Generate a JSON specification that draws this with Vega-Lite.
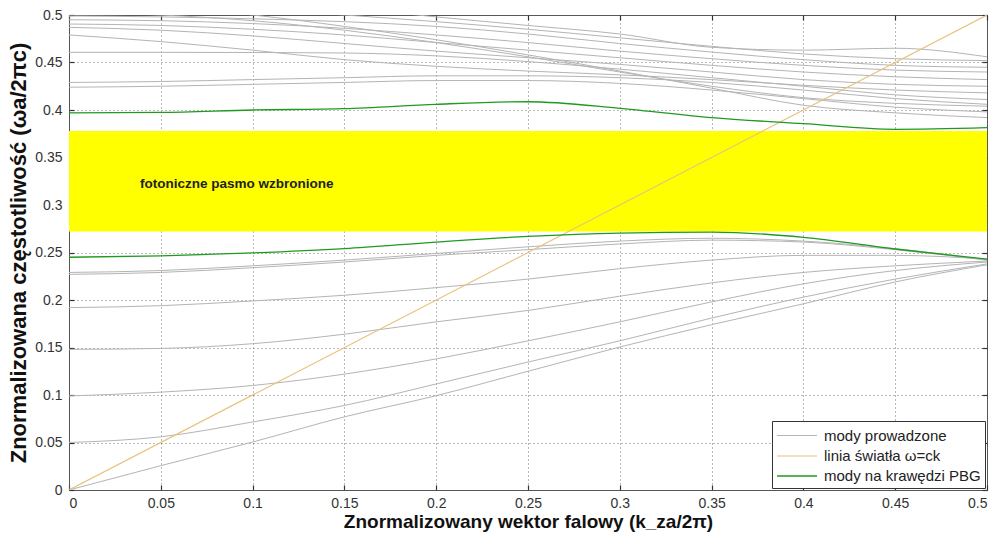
{
  "$schema": "https://vega.github.io/schema/vega-lite/v6.json",
  "width": 918,
  "height": 475,
  "autosize": {"type": "none"},
  "padding": {"left": 69, "top": 15, "right": 11, "bottom": 46},
  "background": "white",
  "view": {"stroke": "#555", "strokeWidth": 1},
  "datasets": {
    "band": [{"x0": 0, "x1": 0.5, "y0": 0.272, "y1": 0.378}],
    "note": [{"k": 0.0387, "w": 0.322, "label": "fotoniczne pasmo wzbronione"}],
    "lines": [
      {"id":"a","type":"mody prowadzone","k":0,"w":0.535},{"id":"a","type":"mody prowadzone","k":0.05,"w":0.527},{"id":"a","type":"mody prowadzone","k":0.1,"w":0.518},{"id":"a","type":"mody prowadzone","k":0.15,"w":0.508},{"id":"a","type":"mody prowadzone","k":0.2,"w":0.498},{"id":"a","type":"mody prowadzone","k":0.25,"w":0.489},{"id":"a","type":"mody prowadzone","k":0.3,"w":0.48},{"id":"a","type":"mody prowadzone","k":0.35,"w":0.466},{"id":"a","type":"mody prowadzone","k":0.4,"w":0.463},{"id":"a","type":"mody prowadzone","k":0.45,"w":0.465},{"id":"a","type":"mody prowadzone","k":0.5,"w":0.456},
      {"id":"b","type":"mody prowadzone","k":0,"w":0.515},{"id":"b","type":"mody prowadzone","k":0.05,"w":0.511},{"id":"b","type":"mody prowadzone","k":0.1,"w":0.506},{"id":"b","type":"mody prowadzone","k":0.15,"w":0.5},{"id":"b","type":"mody prowadzone","k":0.2,"w":0.493},{"id":"b","type":"mody prowadzone","k":0.25,"w":0.485},{"id":"b","type":"mody prowadzone","k":0.3,"w":0.476},{"id":"b","type":"mody prowadzone","k":0.35,"w":0.467},{"id":"b","type":"mody prowadzone","k":0.4,"w":0.459},{"id":"b","type":"mody prowadzone","k":0.45,"w":0.454},{"id":"b","type":"mody prowadzone","k":0.5,"w":0.452},
      {"id":"c","type":"mody prowadzone","k":0,"w":0.499},{"id":"c","type":"mody prowadzone","k":0.05,"w":0.498},{"id":"c","type":"mody prowadzone","k":0.1,"w":0.496},{"id":"c","type":"mody prowadzone","k":0.15,"w":0.493},{"id":"c","type":"mody prowadzone","k":0.2,"w":0.488},{"id":"c","type":"mody prowadzone","k":0.25,"w":0.48},{"id":"c","type":"mody prowadzone","k":0.3,"w":0.47},{"id":"c","type":"mody prowadzone","k":0.35,"w":0.461},{"id":"c","type":"mody prowadzone","k":0.4,"w":0.453},{"id":"c","type":"mody prowadzone","k":0.45,"w":0.447},{"id":"c","type":"mody prowadzone","k":0.5,"w":0.445},
      {"id":"d","type":"mody prowadzone","k":0,"w":0.495},{"id":"d","type":"mody prowadzone","k":0.05,"w":0.494},{"id":"d","type":"mody prowadzone","k":0.1,"w":0.491},{"id":"d","type":"mody prowadzone","k":0.15,"w":0.486},{"id":"d","type":"mody prowadzone","k":0.2,"w":0.479},{"id":"d","type":"mody prowadzone","k":0.25,"w":0.471},{"id":"d","type":"mody prowadzone","k":0.3,"w":0.462},{"id":"d","type":"mody prowadzone","k":0.35,"w":0.454},{"id":"d","type":"mody prowadzone","k":0.4,"w":0.447},{"id":"d","type":"mody prowadzone","k":0.45,"w":0.442},{"id":"d","type":"mody prowadzone","k":0.5,"w":0.44},
      {"id":"e","type":"mody prowadzone","k":0,"w":0.4905},{"id":"e","type":"mody prowadzone","k":0.05,"w":0.489},{"id":"e","type":"mody prowadzone","k":0.1,"w":0.485},{"id":"e","type":"mody prowadzone","k":0.15,"w":0.479},{"id":"e","type":"mody prowadzone","k":0.2,"w":0.471},{"id":"e","type":"mody prowadzone","k":0.25,"w":0.463},{"id":"e","type":"mody prowadzone","k":0.3,"w":0.455},{"id":"e","type":"mody prowadzone","k":0.35,"w":0.447},{"id":"e","type":"mody prowadzone","k":0.4,"w":0.44},{"id":"e","type":"mody prowadzone","k":0.45,"w":0.435},{"id":"e","type":"mody prowadzone","k":0.5,"w":0.432},
      {"id":"f","type":"mody prowadzone","k":0,"w":0.487},{"id":"f","type":"mody prowadzone","k":0.05,"w":0.484},{"id":"f","type":"mody prowadzone","k":0.1,"w":0.478},{"id":"f","type":"mody prowadzone","k":0.15,"w":0.47},{"id":"f","type":"mody prowadzone","k":0.2,"w":0.462},{"id":"f","type":"mody prowadzone","k":0.25,"w":0.455},{"id":"f","type":"mody prowadzone","k":0.3,"w":0.448},{"id":"f","type":"mody prowadzone","k":0.35,"w":0.44},{"id":"f","type":"mody prowadzone","k":0.4,"w":0.432},{"id":"f","type":"mody prowadzone","k":0.45,"w":0.427},{"id":"f","type":"mody prowadzone","k":0.5,"w":0.425},
      {"id":"g","type":"mody prowadzone","k":0,"w":0.479},{"id":"g","type":"mody prowadzone","k":0.05,"w":0.472},{"id":"g","type":"mody prowadzone","k":0.1,"w":0.463},{"id":"g","type":"mody prowadzone","k":0.15,"w":0.453},{"id":"g","type":"mody prowadzone","k":0.2,"w":0.446},{"id":"g","type":"mody prowadzone","k":0.25,"w":0.441},{"id":"g","type":"mody prowadzone","k":0.3,"w":0.437},{"id":"g","type":"mody prowadzone","k":0.35,"w":0.432},{"id":"g","type":"mody prowadzone","k":0.4,"w":0.426},{"id":"g","type":"mody prowadzone","k":0.45,"w":0.421},{"id":"g","type":"mody prowadzone","k":0.5,"w":0.418},
      {"id":"h","type":"mody prowadzone","k":0,"w":0.4607},{"id":"h","type":"mody prowadzone","k":0.05,"w":0.4607},{"id":"h","type":"mody prowadzone","k":0.1,"w":0.4605},{"id":"h","type":"mody prowadzone","k":0.15,"w":0.46},{"id":"h","type":"mody prowadzone","k":0.2,"w":0.457},{"id":"h","type":"mody prowadzone","k":0.25,"w":0.451},{"id":"h","type":"mody prowadzone","k":0.3,"w":0.443},{"id":"h","type":"mody prowadzone","k":0.35,"w":0.434},{"id":"h","type":"mody prowadzone","k":0.4,"w":0.425},{"id":"h","type":"mody prowadzone","k":0.45,"w":0.416},{"id":"h","type":"mody prowadzone","k":0.5,"w":0.411},
      {"id":"i","type":"mody prowadzone","k":0,"w":0.429},{"id":"i","type":"mody prowadzone","k":0.05,"w":0.43},{"id":"i","type":"mody prowadzone","k":0.1,"w":0.432},{"id":"i","type":"mody prowadzone","k":0.15,"w":0.434},{"id":"i","type":"mody prowadzone","k":0.2,"w":0.436},{"id":"i","type":"mody prowadzone","k":0.25,"w":0.436},{"id":"i","type":"mody prowadzone","k":0.3,"w":0.434},{"id":"i","type":"mody prowadzone","k":0.35,"w":0.429},{"id":"i","type":"mody prowadzone","k":0.4,"w":0.421},{"id":"i","type":"mody prowadzone","k":0.45,"w":0.412},{"id":"i","type":"mody prowadzone","k":0.5,"w":0.406},
      {"id":"j","type":"mody prowadzone","k":0,"w":0.424},{"id":"j","type":"mody prowadzone","k":0.05,"w":0.425},{"id":"j","type":"mody prowadzone","k":0.1,"w":0.427},{"id":"j","type":"mody prowadzone","k":0.15,"w":0.429},{"id":"j","type":"mody prowadzone","k":0.2,"w":0.431},{"id":"j","type":"mody prowadzone","k":0.25,"w":0.431},{"id":"j","type":"mody prowadzone","k":0.3,"w":0.428},{"id":"j","type":"mody prowadzone","k":0.35,"w":0.421},{"id":"j","type":"mody prowadzone","k":0.4,"w":0.412},{"id":"j","type":"mody prowadzone","k":0.45,"w":0.403},{"id":"j","type":"mody prowadzone","k":0.5,"w":0.398},
      {"id":"k","type":"mody prowadzone","k":0,"w":0.512},{"id":"k","type":"mody prowadzone","k":0.05,"w":0.508},{"id":"k","type":"mody prowadzone","k":0.1,"w":0.5},{"id":"k","type":"mody prowadzone","k":0.15,"w":0.488},{"id":"k","type":"mody prowadzone","k":0.2,"w":0.474},{"id":"k","type":"mody prowadzone","k":0.25,"w":0.458},{"id":"k","type":"mody prowadzone","k":0.3,"w":0.441},{"id":"k","type":"mody prowadzone","k":0.35,"w":0.423},{"id":"k","type":"mody prowadzone","k":0.4,"w":0.405},{"id":"k","type":"mody prowadzone","k":0.45,"w":0.397},{"id":"k","type":"mody prowadzone","k":0.5,"w":0.392},
      {"id":"l","type":"mody prowadzone","k":0,"w":0.503},{"id":"l","type":"mody prowadzone","k":0.05,"w":0.5},{"id":"l","type":"mody prowadzone","k":0.1,"w":0.494},{"id":"l","type":"mody prowadzone","k":0.15,"w":0.484},{"id":"l","type":"mody prowadzone","k":0.2,"w":0.471},{"id":"l","type":"mody prowadzone","k":0.25,"w":0.456},{"id":"l","type":"mody prowadzone","k":0.3,"w":0.44},{"id":"l","type":"mody prowadzone","k":0.35,"w":0.425},{"id":"l","type":"mody prowadzone","k":0.4,"w":0.413},{"id":"l","type":"mody prowadzone","k":0.45,"w":0.407},{"id":"l","type":"mody prowadzone","k":0.5,"w":0.404},
      {"id":"m1","type":"mody prowadzone","k":0,"w":0.227},{"id":"m1","type":"mody prowadzone","k":0.05,"w":0.229},{"id":"m1","type":"mody prowadzone","k":0.1,"w":0.234},{"id":"m1","type":"mody prowadzone","k":0.15,"w":0.24},{"id":"m1","type":"mody prowadzone","k":0.2,"w":0.247},{"id":"m1","type":"mody prowadzone","k":0.25,"w":0.253},{"id":"m1","type":"mody prowadzone","k":0.3,"w":0.259},{"id":"m1","type":"mody prowadzone","k":0.35,"w":0.263},{"id":"m1","type":"mody prowadzone","k":0.4,"w":0.261},{"id":"m1","type":"mody prowadzone","k":0.45,"w":0.253},{"id":"m1","type":"mody prowadzone","k":0.5,"w":0.242},
      {"id":"m2","type":"mody prowadzone","k":0,"w":0.229},{"id":"m2","type":"mody prowadzone","k":0.05,"w":0.231},{"id":"m2","type":"mody prowadzone","k":0.1,"w":0.236},{"id":"m2","type":"mody prowadzone","k":0.15,"w":0.242},{"id":"m2","type":"mody prowadzone","k":0.2,"w":0.249},{"id":"m2","type":"mody prowadzone","k":0.25,"w":0.256},{"id":"m2","type":"mody prowadzone","k":0.3,"w":0.262},{"id":"m2","type":"mody prowadzone","k":0.35,"w":0.265},{"id":"m2","type":"mody prowadzone","k":0.4,"w":0.262},{"id":"m2","type":"mody prowadzone","k":0.45,"w":0.254},{"id":"m2","type":"mody prowadzone","k":0.5,"w":0.242},
      {"id":"n","type":"mody prowadzone","k":0,"w":0.192},{"id":"n","type":"mody prowadzone","k":0.05,"w":0.194},{"id":"n","type":"mody prowadzone","k":0.1,"w":0.199},{"id":"n","type":"mody prowadzone","k":0.15,"w":0.205},{"id":"n","type":"mody prowadzone","k":0.2,"w":0.213},{"id":"n","type":"mody prowadzone","k":0.25,"w":0.222},{"id":"n","type":"mody prowadzone","k":0.3,"w":0.233},{"id":"n","type":"mody prowadzone","k":0.35,"w":0.242},{"id":"n","type":"mody prowadzone","k":0.4,"w":0.247},{"id":"n","type":"mody prowadzone","k":0.45,"w":0.247},{"id":"n","type":"mody prowadzone","k":0.5,"w":0.243},
      {"id":"o","type":"mody prowadzone","k":0,"w":0.148},{"id":"o","type":"mody prowadzone","k":0.05,"w":0.149},{"id":"o","type":"mody prowadzone","k":0.1,"w":0.154},{"id":"o","type":"mody prowadzone","k":0.15,"w":0.164},{"id":"o","type":"mody prowadzone","k":0.2,"w":0.177},{"id":"o","type":"mody prowadzone","k":0.25,"w":0.189},{"id":"o","type":"mody prowadzone","k":0.3,"w":0.204},{"id":"o","type":"mody prowadzone","k":0.35,"w":0.218},{"id":"o","type":"mody prowadzone","k":0.4,"w":0.229},{"id":"o","type":"mody prowadzone","k":0.45,"w":0.236},{"id":"o","type":"mody prowadzone","k":0.5,"w":0.241},
      {"id":"p","type":"mody prowadzone","k":0,"w":0.099},{"id":"p","type":"mody prowadzone","k":0.05,"w":0.103},{"id":"p","type":"mody prowadzone","k":0.1,"w":0.11},{"id":"p","type":"mody prowadzone","k":0.15,"w":0.122},{"id":"p","type":"mody prowadzone","k":0.2,"w":0.138},{"id":"p","type":"mody prowadzone","k":0.25,"w":0.157},{"id":"p","type":"mody prowadzone","k":0.3,"w":0.177},{"id":"p","type":"mody prowadzone","k":0.35,"w":0.198},{"id":"p","type":"mody prowadzone","k":0.4,"w":0.217},{"id":"p","type":"mody prowadzone","k":0.45,"w":0.231},{"id":"p","type":"mody prowadzone","k":0.5,"w":0.24},
      {"id":"q","type":"mody prowadzone","k":0,"w":0.05},{"id":"q","type":"mody prowadzone","k":0.05,"w":0.056},{"id":"q","type":"mody prowadzone","k":0.1,"w":0.0716},{"id":"q","type":"mody prowadzone","k":0.15,"w":0.089},{"id":"q","type":"mody prowadzone","k":0.2,"w":0.1116},{"id":"q","type":"mody prowadzone","k":0.25,"w":0.1347},{"id":"q","type":"mody prowadzone","k":0.3,"w":0.157},{"id":"q","type":"mody prowadzone","k":0.35,"w":0.181},{"id":"q","type":"mody prowadzone","k":0.4,"w":0.203},{"id":"q","type":"mody prowadzone","k":0.45,"w":0.222},{"id":"q","type":"mody prowadzone","k":0.5,"w":0.238},
      {"id":"r","type":"mody prowadzone","k":0,"w":0},{"id":"r","type":"mody prowadzone","k":0.05,"w":0.0256},{"id":"r","type":"mody prowadzone","k":0.1,"w":0.0505},{"id":"r","type":"mody prowadzone","k":0.15,"w":0.077},{"id":"r","type":"mody prowadzone","k":0.2,"w":0.0993},{"id":"r","type":"mody prowadzone","k":0.25,"w":0.125},{"id":"r","type":"mody prowadzone","k":0.3,"w":0.1505},{"id":"r","type":"mody prowadzone","k":0.35,"w":0.174},{"id":"r","type":"mody prowadzone","k":0.4,"w":0.196},{"id":"r","type":"mody prowadzone","k":0.45,"w":0.219},{"id":"r","type":"mody prowadzone","k":0.5,"w":0.237},
      {"id":"light","type":"linia światła ω=ck","k":0,"w":0},{"id":"light","type":"linia światła ω=ck","k":0.5,"w":0.5},
      {"id":"g1","type":"mody na krawędzi PBG","k":0,"w":0.245},{"id":"g1","type":"mody na krawędzi PBG","k":0.05,"w":0.2465},{"id":"g1","type":"mody na krawędzi PBG","k":0.1,"w":0.2495},{"id":"g1","type":"mody na krawędzi PBG","k":0.15,"w":0.254},{"id":"g1","type":"mody na krawędzi PBG","k":0.2,"w":0.261},{"id":"g1","type":"mody na krawędzi PBG","k":0.25,"w":0.267},{"id":"g1","type":"mody na krawędzi PBG","k":0.3,"w":0.2705},{"id":"g1","type":"mody na krawędzi PBG","k":0.35,"w":0.2715},{"id":"g1","type":"mody na krawędzi PBG","k":0.4,"w":0.266},{"id":"g1","type":"mody na krawędzi PBG","k":0.45,"w":0.2537},{"id":"g1","type":"mody na krawędzi PBG","k":0.5,"w":0.243},
      {"id":"g2","type":"mody na krawędzi PBG","k":0,"w":0.397},{"id":"g2","type":"mody na krawędzi PBG","k":0.05,"w":0.3975},{"id":"g2","type":"mody na krawędzi PBG","k":0.1,"w":0.4},{"id":"g2","type":"mody na krawędzi PBG","k":0.15,"w":0.4014},{"id":"g2","type":"mody na krawędzi PBG","k":0.2,"w":0.406},{"id":"g2","type":"mody na krawędzi PBG","k":0.25,"w":0.4087},{"id":"g2","type":"mody na krawędzi PBG","k":0.3,"w":0.4018},{"id":"g2","type":"mody na krawędzi PBG","k":0.35,"w":0.392},{"id":"g2","type":"mody na krawędzi PBG","k":0.4,"w":0.3856},{"id":"g2","type":"mody na krawędzi PBG","k":0.45,"w":0.3797},{"id":"g2","type":"mody na krawędzi PBG","k":0.5,"w":0.3814}
    ]
  },
  "layer": [
    {
      "data": {"name": "band"},
      "mark": {"type": "rect", "color": "#ffff00"},
      "encoding": {
        "x": {"field": "x0", "type": "quantitative", "scale": {"domain": [0, 0.5], "nice": false},
          "axis": {"orient": "bottom", "values": [0,0.05,0.1,0.15,0.2,0.25,0.3,0.35,0.4,0.45,0.5], "format": "~g", "title": "Znormalizowany wektor falowy (k_za/2π)", "tickSize": -5, "labelPadding": 11, "titlePadding": 2, "titleFontSize": 19, "grid": true}},
        "x2": {"field": "x1"},
        "y": {"field": "y0", "type": "quantitative", "scale": {"domain": [0, 0.5], "nice": false},
          "axis": {"orient": "left", "values": [0,0.05,0.1,0.15,0.2,0.25,0.3,0.35,0.4,0.45,0.5], "format": "~g", "title": "Znormalizowana częstotliwość (ωa/2πc)", "tickSize": -5, "labelPadding": 12, "titlePadding": 4, "titleFontSize": 22, "grid": true}},
        "y2": {"field": "y1"}
      }
    },
    {
      "data": {"name": "lines"},
      "mark": {"type": "line", "interpolate": "monotone", "clip": true},
      "encoding": {
        "x": {"field": "k", "type": "quantitative", "axis": null},
        "y": {"field": "w", "type": "quantitative", "axis": null},
        "detail": {"field": "id"},
        "color": {"field": "type", "type": "nominal",
          "scale": {"domain": ["mody prowadzone", "linia światła ω=ck", "mody na krawędzi PBG"], "range": ["#b4b4b4", "#e8c27c", "#1f9a1f"]},
          "legend": {"title": null}},
        "strokeWidth": {"field": "type", "type": "nominal",
          "scale": {"domain": ["mody prowadzone", "linia światła ω=ck", "mody na krawędzi PBG"], "range": [1, 1.3, 2.2]},
          "legend": {"title": null}}
      }
    },
    {
      "data": {"name": "note"},
      "mark": {"type": "text", "align": "left", "baseline": "middle", "font": "Liberation Sans", "fontWeight": "bold", "fontSize": 13.5, "color": "#222"},
      "encoding": {
        "x": {"field": "k", "type": "quantitative",
          "axis": {"orient": "top", "values": [0,0.05,0.1,0.15,0.2,0.25,0.3,0.35,0.4,0.45,0.5], "labels": false, "title": null, "tickSize": -5, "grid": false, "domain": false}},
        "y": {"field": "w", "type": "quantitative",
          "axis": {"orient": "right", "values": [0,0.05,0.1,0.15,0.2,0.25,0.3,0.35,0.4,0.45,0.5], "labels": false, "title": null, "tickSize": -5, "grid": false, "domain": false}},
        "text": {"field": "label"}
      }
    }
  ],
  "config": {
    "axis": {
      "gridDash": [1, 3], "gridColor": "#666", "gridWidth": 1, "gridOpacity": 0.9,
      "domainColor": "#555", "tickColor": "#333", "tickWidth": 1.2,
      "labelFont": "Liberation Sans", "labelFontSize": 14, "labelColor": "#333",
      "titleFont": "Liberation Sans", "titleFontWeight": "bold", "titleColor": "#111"
    },
    "legend": {
      "orient": "bottom-right", "offset": 2, "strokeColor": "#333", "fillColor": "white",
      "padding": 4, "symbolType": "M-1,0H3", "symbolSize": 400, "labelFont": "Liberation Sans",
      "labelFontSize": 15, "labelColor": "#222", "rowPadding": 1, "labelOffset": 26, "cornerRadius": 0
    }
  }
}
